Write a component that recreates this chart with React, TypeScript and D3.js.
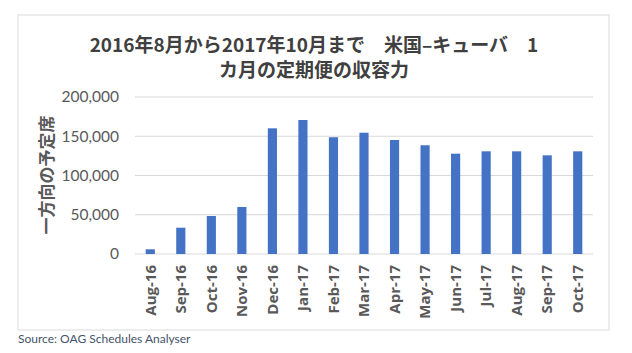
import React from 'react';
import * as d3 from 'd3';

const months = ['Aug-16', 'Sep-16', 'Oct-16', 'Nov-16', 'Dec-16', 'Jan-17', 'Feb-17', 'Mar-17',
  'Apr-17', 'May-17', 'Jun-17', 'Jul-17', 'Aug-17', 'Sep-17', 'Oct-17'];
const seats = [6000, 33500, 48400, 59900, 160100, 170700, 148700, 154500,
  145200, 138500, 127800, 130800, 130800, 125700, 130800];
const yTicks = [0, 50000, 100000, 150000, 200000];
const titleLines = ['2016年8月から2017年10月まで　米国–キューバ　1', 'カ月の定期便の収容力'];
const yTitle = '一方向の予定席';
const source = 'Source: OAG Schedules Analyser';

const W = 632;
const H = 353;
const plot = { left: 135, right: 593, top: 97, bottom: 254 };
const latin = 'Lato, "Open Sans", sans-serif';
const cjk = '"Noto Sans CJK JP", sans-serif';

export default function App() {
  const x = d3.scaleBand<string>().domain(months).range([plot.left, plot.right]).paddingInner(0.7).paddingOuter(0.35);
  const y = d3.scaleLinear().domain([0, 200000]).range([plot.bottom, plot.top]);
  const fmt = d3.format(',');

  return (
    <svg width={W} height={H} style={{ position: 'fixed', left: 0, top: 0, background: '#fff' }}>
      <rect x={18} y={15} width={591} height={315} fill="#fff" stroke="#d9d9d9" strokeWidth={1} />

      {titleLines.map((t, i) => (
        <text key={i} x={314} y={52 + i * 25} textAnchor="middle" fontFamily={cjk}
          fontWeight="bold" fontSize={19} fill="#404040">{t}</text>
      ))}

      {yTicks.map(t => (
        <g key={t}>
          <line x1={plot.left} x2={plot.right} y1={y(t)} y2={y(t)} stroke="#d9d9d9" strokeWidth={1} />
          <text x={119} y={y(t)} dy="0.35em" textAnchor="end" fontFamily={latin}
            fontSize={15.5} fill="#595959">{fmt(t)}</text>
        </g>
      ))}

      {seats.map((v, i) => (
        <rect key={months[i]} x={x(months[i])} y={y(v)} width={x.bandwidth()}
          height={y(0) - y(v)} fill="#4472c4" />
      ))}

      {months.map(m => (
        <text key={m} transform={`translate(${(x(m) ?? 0) + x.bandwidth() / 2},265) rotate(-90)`}
          textAnchor="end" dy="0.35em" fontFamily={'"Open Sans", sans-serif'} fontWeight="bold" fontSize={15}
          fill="#595959">{m}</text>
      ))}

      <text transform={`translate(47,175) rotate(-90)`} textAnchor="middle" dy="0.35em"
        fontFamily={cjk} fontWeight="bold" fontSize={17} fill="#595959">{yTitle}</text>

      <text x={18} y={343} fontFamily={latin} fontSize={12} fill="#44546a">{source}</text>
    </svg>
  );
}
